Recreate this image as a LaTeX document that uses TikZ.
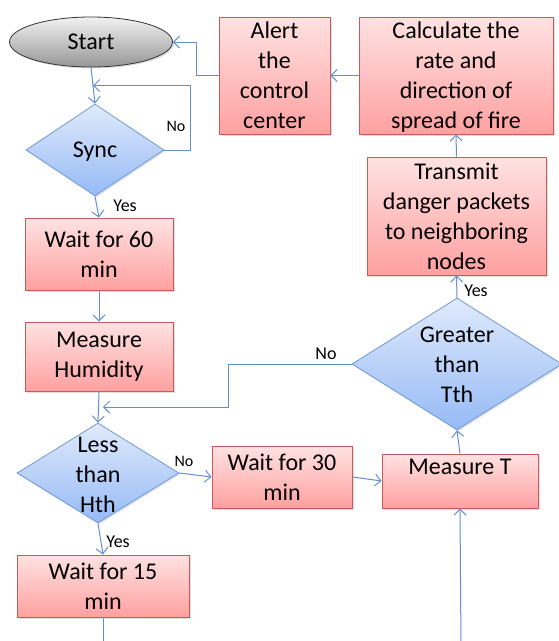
\documentclass[tikz,border=0pt]{standalone}
\usepackage{fontspec}
\setmainfont{Carlito}
\usetikzlibrary{shapes.geometric,arrows.meta,calc,shadows}
\definecolor{lineblue}{RGB}{98,143,208}
\definecolor{boxred}{RGB}{200,90,88}
\definecolor{pinktop}{RGB}{255,226,226}
\definecolor{pinkbot}{RGB}{255,160,160}
\definecolor{diaborder}{RGB}{112,152,212}
\definecolor{bluetop}{RGB}{224,234,252}
\definecolor{bluebot}{RGB}{150,186,246}
\definecolor{graytop}{RGB}{242,242,242}
\definecolor{graybot}{RGB}{150,150,150}
\newcommand\nodepth[1]{\raisebox{0pt}[\height][0pt]{#1}}
\begin{document}
\begin{tikzpicture}[x=1pt,y=-1pt,
  every node/.style={font=\fontsize{24}{30}\selectfont, inner sep=0pt, align=center, text=black},
  box/.style={rectangle, draw=boxred, line width=0.9pt, top color=pinktop, bottom color=pinkbot,
    drop shadow={opacity=0.25, shadow xshift=1.5pt, shadow yshift=-1.5pt}},
  dia/.style={diamond, draw=diaborder, line width=0.8pt, top color=bluetop, bottom color=bluebot,
    drop shadow={opacity=0.2, shadow xshift=1.5pt, shadow yshift=-1.5pt}},
  oval/.style={ellipse, draw=black!80, line width=0.8pt, top color=graytop, bottom color=graybot,
    drop shadow={opacity=0.25, shadow xshift=1.5pt, shadow yshift=-1.5pt}},
  conn/.style={draw=lineblue, line width=1pt, -{Straight Barb[length=6pt,width=12pt]}},
  plain/.style={draw=lineblue, line width=1pt},
  lab/.style={font=\fontsize{16}{18}\selectfont},
  laby/.style={font=\fontsize{18}{20}\selectfont}
]
\useasboundingbox (0,0) rectangle (559,641);
\clip (0,0) rectangle (559,641);

% nodes
\node[oval, minimum width=163, minimum height=50] (start) at (91,42) {Start};
\node[box, minimum width=111, minimum height=117] (alert) at (274.5,75.5) {Alert\\the\\control\\center};
\node[box, minimum width=194, minimum height=117] (calc) at (456,75.5) {Calculate the\\rate and\\direction of\\\nodepth{spread of fire}};
\node[box, minimum width=179, minimum height=118] (trans) at (456.5,216) {Transmit\\danger packets\\to neighboring\\nodes};

\node[dia, minimum width=138, minimum height=92] (sync) at (95,150) {};
\node (synct) at (sync.center) {\nodepth{Sync}};

\node[box, minimum width=148, minimum height=72] (w60) at (99,254) {Wait for 60\\min};
\node[box, minimum width=148, minimum height=69] (hum) at (99,356.5) {Measure\\Humidity};

\node[dia, minimum width=210, minimum height=132] (gt) at (457,364) {};
\node (gtt) at ([yshift=-1pt]gt.center) {Greater\\than\\Tth};

\node[dia, minimum width=162, minimum height=100] (less) at (98,473) {};
\node (lesst) at ([yshift=-2pt]less.center) {Less\\than\\Hth};

\node[box, minimum width=140, minimum height=62] (w30) at (282,477) {Wait for 30\\min};
\node[box, minimum width=156, minimum height=54] (mt) at (460,481) {};
\node[anchor=base] (mtt) at (460,474) {Measure T};
\node[box, minimum width=172, minimum height=62] (w15) at (103,586) {Wait for 15\\min};

\coordinate (join) at ($(start.south)!0.5!(sync.north)$);
\coordinate (w15out) at (103,650);
\coordinate (mtin) at (461,650);

% connectors
\draw[conn] (start.south) -- (sync.north);
\draw[conn] (sync.east) -- (190,150) |- (join);
\node[lab] (no1) at (176,126) {No};
\draw[conn] (sync.south) -- (w60.north);
\node[laby] (yes1) at (125,206) {Yes};
\draw[conn] (w60.south) -- (hum.north);
\draw[conn] (hum.south) -- (less.north);
\draw[conn] (gt.west) -- (228,364) |- (103,407);
\node[laby] (no3) at (326,354) {No};
\draw[conn] (less.east) -- (w30.west);
\node[lab] (no2) at (184,461) {No};
\draw[conn] (less.south) -- (w15.north);
\node[laby] (yes2) at (118,542) {Yes};
\draw[plain] (w15.south) -- (w15out);
\draw[conn] (mtin) -- (mt.south);
\draw[conn] (w30.east) -- (mt.west);
\draw[conn] (mt.north) -- (gt.south);
\draw[conn] (gt.north) -- (trans.south);
\node[laby] (yes3) at (476,291) {Yes};
\draw[conn] (trans.north) -- (calc.south);
\draw[conn] (calc.west) -- (alert.east);
\draw[conn] (alert.west) -- (196,75.5) |- (start.east);
\end{tikzpicture}
\end{document}
